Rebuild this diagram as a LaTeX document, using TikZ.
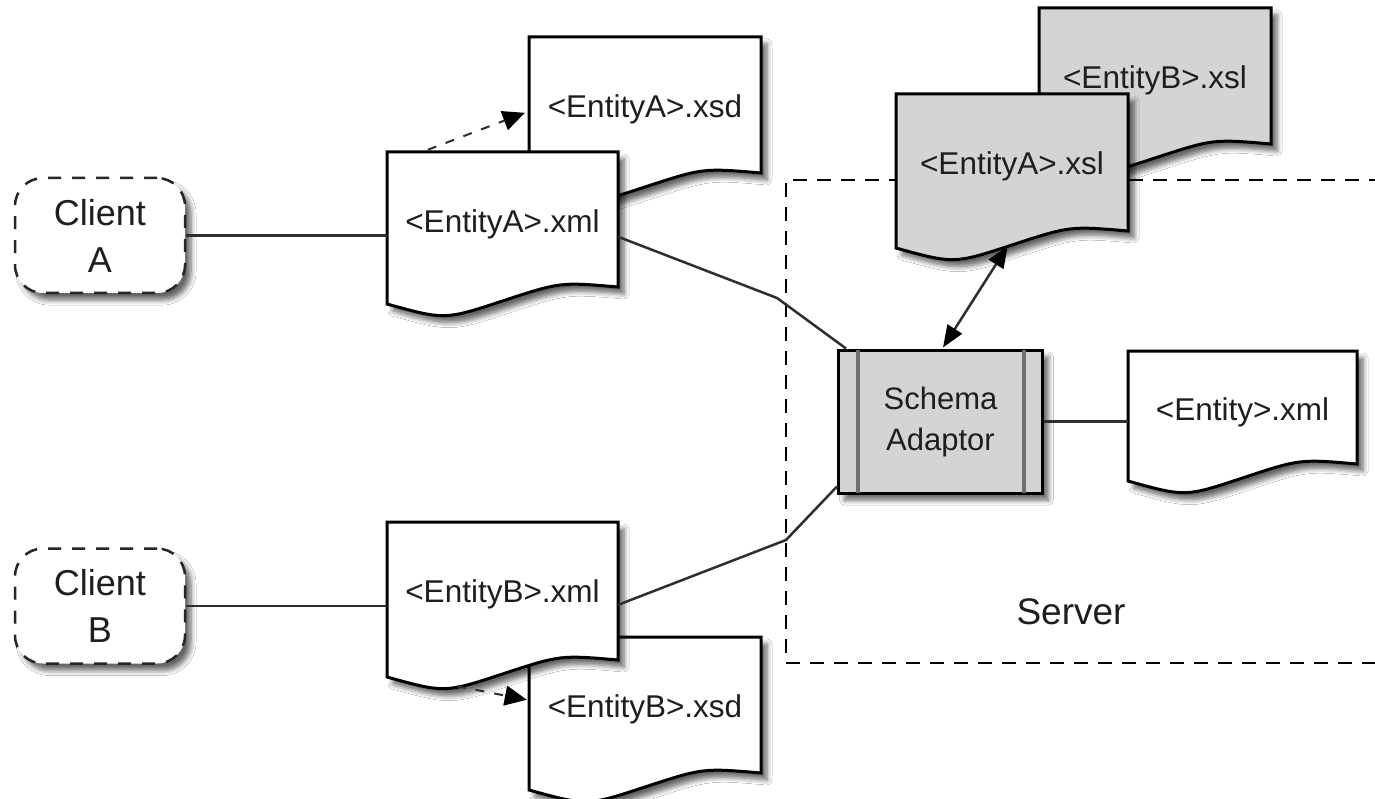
\documentclass[tikz,border=0pt]{standalone}
\usepackage{fontspec}
\setmainfont{Liberation Sans}
\usetikzlibrary{calc,arrows.meta,shadows.blur}
\definecolor{docgray}{HTML}{D4D4D4}
\definecolor{linegray}{HTML}{2E2E2E}
\definecolor{txt}{HTML}{1E1E1E}
\definecolor{innergray}{HTML}{707070}
\tikzset{
  shd/.style={blur shadow={shadow xshift=6pt, shadow yshift=-7pt, shadow blur radius=5pt, shadow blur steps=6, shadow opacity=60}},
  docline/.style={draw=black, line width=3pt, fill=white, line join=miter, shd},
  docnode/.style={draw=none, inner sep=0pt, text=txt, font=\fontsize{31.5}{38}\selectfont},
  client/.style={draw=black!85, line width=2.5pt, dash pattern=on 13pt off 11pt, rounded corners=28pt,
    fill=white, minimum width=170pt, minimum height=115pt, align=center, text=txt,
    font=\fontsize{36}{47}\selectfont, shd},
  schemabox/.style={draw=black, line width=3pt, fill=docgray, minimum width=204pt, minimum height=143pt,
    align=center, text=txt, font=\fontsize{31}{41}\selectfont, shd},
  innerline/.style={draw=innergray, line width=4pt},
  serverbox/.style={draw=black, line width=2.2pt, dash pattern=on 14pt off 10pt, minimum width=609pt, minimum height=483pt},
  conn/.style={draw=linegray, line width=2.5pt},
  tip/.style={Triangle[length=22pt,width=18pt,fill=black,color=black]},
  depend/.style={draw=linegray, line width=2pt, dash pattern=on 9pt off 10pt, -{Triangle[length=22pt,width=20pt,color=black]}},
  link/.style={draw=linegray, line width=2.5pt, {Triangle[length=22pt,width=17pt,color=black]}-{Triangle[length=22pt,width=17pt,color=black]}},
}
% #1 L, #2 T, #3 w, #4 h, #5 extra style
\newcommand\docshape[5]{%
  \path[docline,#5] (#1,#2) -- (#1+#3,#2) -- (#1+#3,#2+#4-17)
    .. controls (#1+0.75*#3,#2+#4-22) .. (#1+0.5*#3,#2+#4-3)
    .. controls (#1+0.25*#3,#2+#4+16) .. (#1,#2+#4) -- cycle;}
\begin{document}
\begin{tikzpicture}[x=1pt,y=-1pt]
\useasboundingbox (0,0) rectangle (1375,799);
\clip (0,0) rectangle (1375,799);
\fill[white] (0,0) rectangle (1375,799);

% Server boundary
\node[serverbox] (srv) at (1090.5,421.5) {};
\node[text=txt, font=\fontsize{37}{44}\selectfont] (srvlabel) at (1071,612) {Server};

% xsl documents
\docshape{1039}{8}{232}{153}{fill=docgray}
\node[docnode, minimum width=232pt, minimum height=145pt] (xslB) at (1155,80.5) {<EntityB>.xsl};
\docshape{896}{94}{232}{154}{fill=docgray}
\node[docnode, minimum width=232pt, minimum height=145pt] (xslA) at (1012,166.5) {<EntityA>.xsl};

% Entity A documents
\docshape{529}{37}{232}{153}{}
\node[docnode, minimum width=232pt, minimum height=145pt] (xsdA) at (645,109.5) {<EntityA>.xsd};
\docshape{387}{152}{231}{152}{}
\node[docnode, minimum width=231pt, minimum height=145pt] (xmlA) at (502.5,224.5) {<EntityA>.xml};

% Entity B documents
\docshape{529}{637}{232}{153}{}
\node[docnode, minimum width=232pt, minimum height=145pt] (xsdB) at (645,709.5) {<EntityB>.xsd};
\docshape{387}{522}{231}{155}{}
\node[docnode, minimum width=231pt, minimum height=145pt] (xmlB) at (502.5,594.5) {<EntityB>.xml};

% Entity.xml
\docshape{1128}{351}{229}{130}{}
\node[docnode, minimum width=229pt, minimum height=122pt] (entX) at (1242.5,412) {<Entity>.xml};

% Clients
\node[client] (cA) at (100,235.5) {Client\\A};
\node[client] (cB) at (100,606) {Client\\B};

% Schema adaptor
\node[schemabox] (sa) at (940.5,421.5) {Schema\\Adaptor};
\draw[innerline] ($(sa.north west)+(21,1.5)$) -- ($(sa.south west)+(21,-1.5)$);
\draw[innerline] ($(sa.north east)+(-20,1.5)$) -- ($(sa.south east)+(-20,-1.5)$);

% Connectors
\draw[conn] (cA.east) -- (cA.east -| xmlA.west);
\draw[conn] (cB.east) -- (cB.east -| xmlB.west);
\coordinate (bendA) at (777,298);
\coordinate (bendB) at (786,540);
\draw[conn] ($(xmlA.north east)+(0,85)$) -- (bendA) -- ($(sa.north west)+(9,0)$);
\draw[conn] ($(xmlB.north east)+(0,83)$) -- (bendB) -- ($(sa.south west)+(0,-8)$);
\draw[conn] (sa.east) -- (sa.east -| entX.west);
\draw[link] ($(sa.north)+(2.5,-1)$) -- ($(xslA.north west)+(112,152)$);
\draw[depend] ($(xmlA.north west)+(41,-2)$) -- ($(xsdA.north west)+(-4,76)$);
\draw[depend] ($(xmlB.south west)+(70,19)$) -- ($(xsdB.north west)+(-2,63)$);
\end{tikzpicture}
\end{document}
